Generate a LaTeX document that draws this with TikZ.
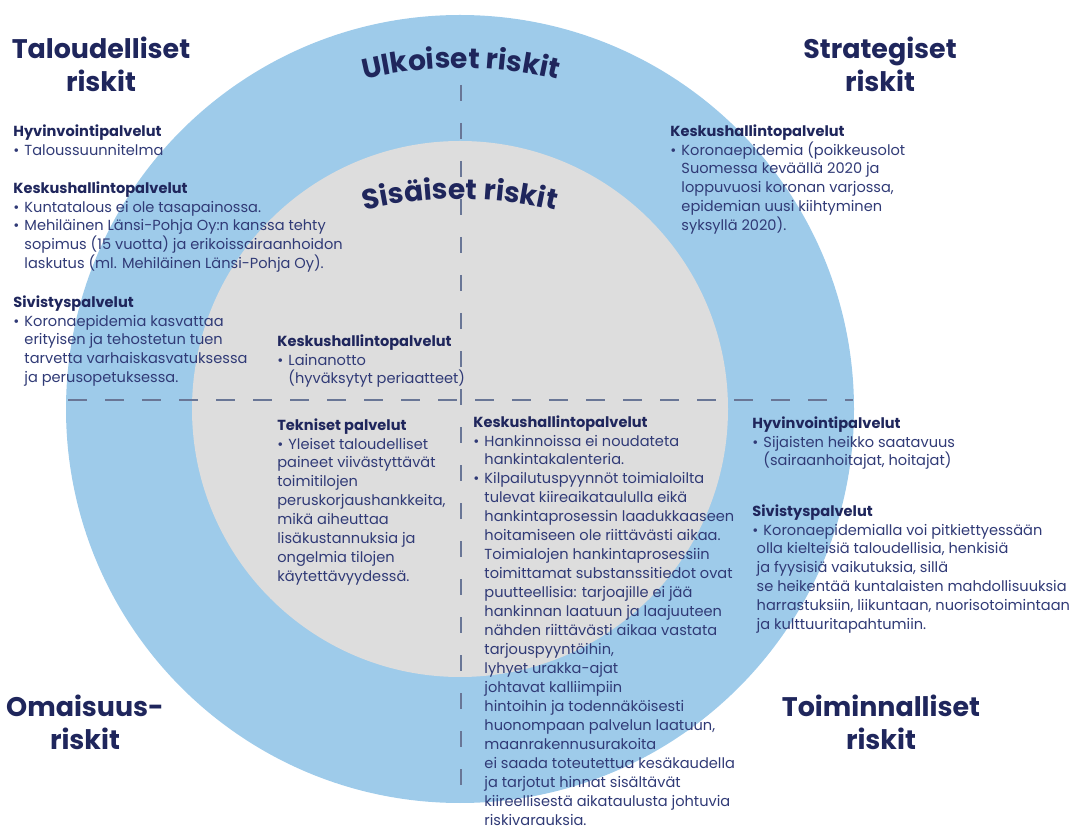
\documentclass[tikz,border=0pt]{standalone}
\usepackage{fontspec}
\setmainfont{Poppins}
\definecolor{outerblue}{RGB}{158, 203, 234}
\definecolor{innergray}{RGB}{221, 221, 221}
\definecolor{titlenavy}{RGB}{31, 38, 92}
\definecolor{textnavy}{RGB}{48, 58, 118}
\definecolor{dashgray}{RGB}{105, 118, 150}
\usepackage{tikz}
\usetikzlibrary{decorations.text, positioning}

\newcommand{\bul}{\textbullet\hspace{0.35em}}
\newcommand{\ind}{\hphantom{\bul}}
\newcommand{\palv}[1]{\textbf{\color{titlenavy}#1}}

\tikzset{
  riskhead/.style={align=center, text=titlenavy, inner sep=0pt,
    font=\fontsize{15.3}{18.8}\selectfont\bfseries},
  riskbody/.style={anchor=north west, align=left, inner sep=0pt, text=textnavy,
    font=\fontsize{8.3}{10.8}\selectfont},
  quadline/.style={dashgray, line width=0.85pt}
}

\begin{document}
\begin{tikzpicture}
  \useasboundingbox (0,0) rectangle (21.5,16.62);

  % rings
  \coordinate (mid) at (9.2,8.44);
  \fill[outerblue] (mid) circle[radius=7.88];
  \fill[innergray] (mid) circle[radius=5.36];

  % quadrant lines
  \coordinate (hleft) at (1.36,8.62);
  \coordinate (hright) at (17.06,8.62);
  \coordinate (vtop) at (9.22,14.92);
  \coordinate (vbot) at (9.22,0.8);
  \draw[quadline, dash pattern=on 0.38cm off 0.36cm] (hleft) -- (hright);
  \draw[quadline, dash pattern=on 0.32cm off 0.44cm] (vtop) -- (vbot);

  % ring labels
  \coordinate (ulkc) at (9.22,7.06);
  \coordinate (sisc) at (9.2,4.44);
  \path[decorate, decoration={text along path, text align=center,
      text={|\fontsize{16}{18}\selectfont\bfseries\color{titlenavy}|Ulkoiset riskit}}]
    ([shift={(112:8.2)}]ulkc) arc[start angle=112, end angle=68, radius=8.2];
  \path[decorate, decoration={text along path, text align=center,
      text={|\fontsize{16}{18}\selectfont\bfseries\color{titlenavy}|Sisäiset riskit}}]
    ([shift={(112:8.2)}]sisc) arc[start angle=112, end angle=68, radius=8.2];

  % corner titles
  \node[riskhead] (talous) at (2.02,15.34) {Taloudelliset\\riskit};
  \node[riskhead] (strat) at (17.6,15.34) {Strategiset\\riskit};
  \node[riskhead] (omais) at (1.7,2.18) {Omaisuus-\\riskit};
  \node[riskhead] (toimin) at (17.62,2.18) {Toiminnalliset\\riskit};

  % taloudelliset
  \node[riskbody] (talhyv) at (0.26,14.14) {\palv{Hyvinvointipalvelut}\\
    \bul Taloussuunnitelma};
  \node[riskbody] (talkesk) at (0.26,13.0) {\palv{Keskushallintopalvelut}\\
    \bul Kuntatalous ei ole tasapainossa.\\
    \bul Mehiläinen Länsi-Pohja Oy:n kanssa tehty\\
    \ind sopimus (15 vuotta) ja erikoissairaanhoidon\\
    \ind laskutus (ml. Mehiläinen Länsi-Pohja Oy).};
  \node[riskbody] (talsiv) at (0.26,10.72) {\palv{Sivistyspalvelut}\\
    \bul Koronaepidemia kasvattaa\\
    \ind erityisen ja tehostetun tuen\\
    \ind tarvetta varhaiskasvatuksessa\\
    \ind ja perusopetuksessa.};
  \node[riskbody] (talsis) at (5.54,9.94) {\palv{Keskushallintopalvelut}\\
    \bul Lainanotto\\
    \ind (hyväksytyt periaatteet)};

  % strategiset
  \node[riskbody] (strkesk) at (13.4,14.14) {\palv{Keskushallintopalvelut}\\
    \bul Koronaepidemia (poikkeusolot\\
    \ind Suomessa keväällä 2020 ja\\
    \ind loppuvuosi koronan varjossa,\\
    \ind epidemian uusi kiihtyminen\\
    \ind syksyllä 2020).};

  % omaisuus
  \node[riskbody] (omatek) at (5.54,8.26) {\palv{Tekniset palvelut}\\
    \bul Yleiset taloudelliset\\
    paineet viivästyttävät\\
    toimitilojen\\
    peruskorjaushankkeita,\\
    mikä aiheuttaa\\
    lisäkustannuksia ja\\
    ongelmia tilojen\\
    käytettävyydessä.};

  % toiminnalliset
  \node[riskbody] (toikesk) at (9.46,8.32) {\palv{Keskushallintopalvelut}\\
    \bul Hankinnoissa ei noudateta\\
    \ind hankintakalenteria.\\
    \bul Kilpailutuspyynnöt toimialoilta\\
    \ind tulevat kiireaikataululla eikä\\
    \ind hankintaprosessin laadukkaaseen\\
    \ind hoitamiseen ole riittävästi aikaa.\\
    \ind Toimialojen hankintaprosessiin\\
    \ind toimittamat substanssitiedot ovat\\
    \ind puutteellisia: tarjoajille ei jää\\
    \ind hankinnan laatuun ja laajuuteen\\
    \ind nähden riittävästi aikaa vastata\\
    \ind tarjouspyyntöihin,\\
    \ind lyhyet urakka-ajat\\
    \ind johtavat kalliimpiin\\
    \ind hintoihin ja todennäköisesti\\
    \ind huonompaan palvelun laatuun,\\
    \ind maanrakennusurakoita\\
    \ind ei saada toteutettua kesäkaudella\\
    \ind ja tarjotut hinnat sisältävät\\
    \ind kiireellisestä aikataulusta johtuvia\\
    \ind riskivarauksia.};
  \node[riskbody] (toihyv) at (15.04,8.3) {\palv{Hyvinvointipalvelut}\\
    \bul Sijaisten heikko saatavuus\\
    \ind (sairaanhoitajat, hoitajat)};
  \node[riskbody] (toisiv) at (15.04,6.54) {\palv{Sivistyspalvelut}\\
    \bul Koronaepidemialla voi pitkiettyessään\\
    \hspace*{0.3em}olla kielteisiä taloudellisia, henkisiä\\
    \hspace*{0.3em}ja fyysisiä vaikutuksia, sillä\\
    \hspace*{0.3em}se heikentää kuntalaisten mahdollisuuksia\\
    \hspace*{0.3em}harrastuksiin, liikuntaan, nuorisotoimintaan\\
    \hspace*{0.3em}ja kulttuuritapahtumiin.};
\end{tikzpicture}
\end{document}
